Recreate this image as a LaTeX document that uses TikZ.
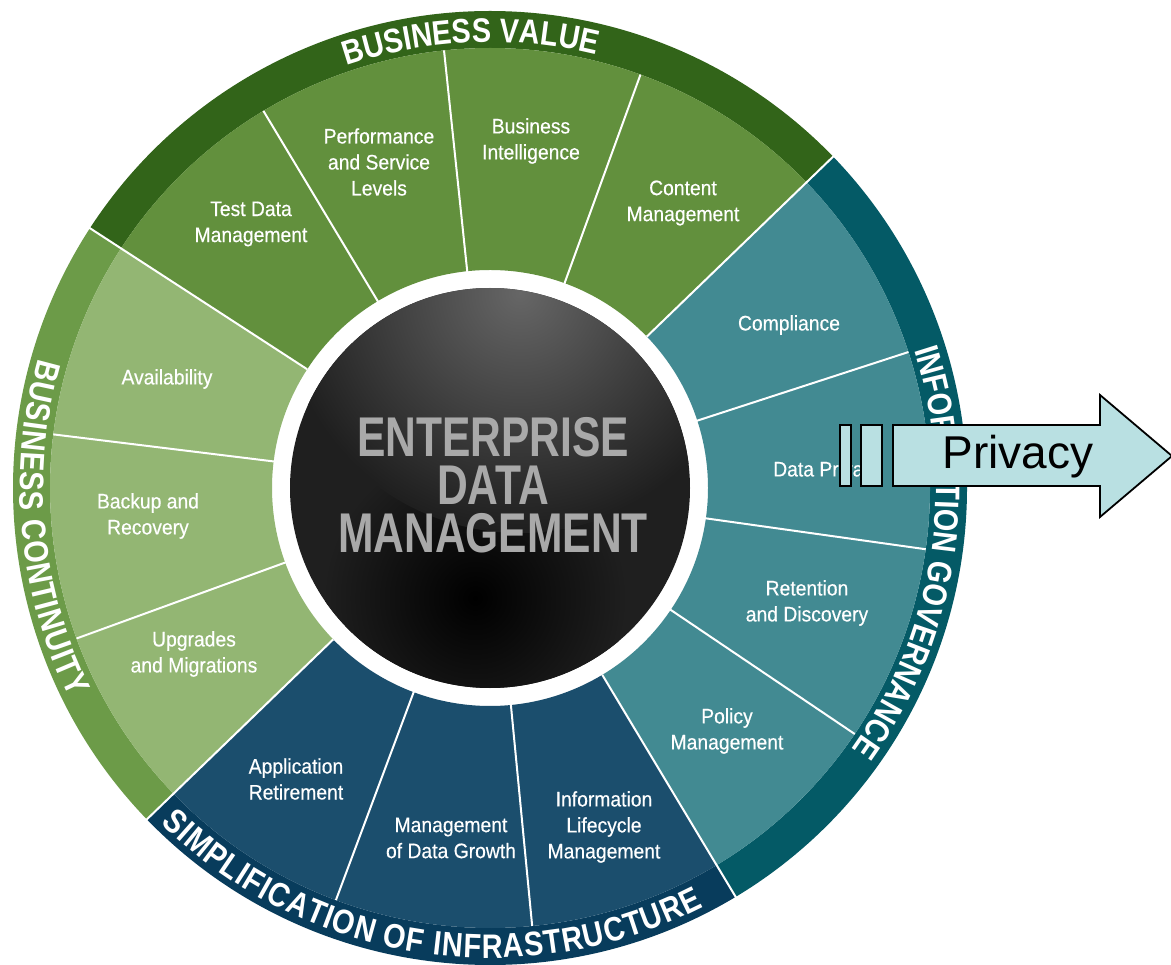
\documentclass[tikz,border=0pt]{standalone}
\usepackage{fontspec}
\usetikzlibrary{decorations.text}
\newfontfamily\labelfont[FakeStretch=0.92,FakeBold=0.4]{Liberation Sans}
\newfontfamily\bandfont[FakeStretch=0.85]{Liberation Sans Bold}
\newfontfamily\corefont[FakeStretch=0.76]{Liberation Sans Bold}
\newfontfamily\arrowfont{Liberation Sans}
\definecolor{bvBand}{HTML}{326419}
\definecolor{bvSeg}{HTML}{62903D}
\definecolor{bcBand}{HTML}{6C9B48}
\definecolor{bcSeg}{HTML}{93B673}
\definecolor{igBand}{HTML}{045A66}
\definecolor{igSeg}{HTML}{428A92}
\definecolor{siBand}{HTML}{083C5C}
\definecolor{siSeg}{HTML}{1B4E6D}
\definecolor{coreGray}{HTML}{A9A9A9}
\definecolor{privFill}{HTML}{B9E0E2}
\newcommand\AnnSector[5]{\fill[#1] (#2:#4pt) arc[start angle=#2,end angle=#3,radius=#4pt] -- (#3:#5pt) arc[start angle=#3,end angle=#2,radius=#5pt] -- cycle;}
\tikzset{
  seglabel/.style={text=white, align=center, inner sep=0pt, font=\labelfont\fontsize{21}{26}\selectfont},
  divider/.style={draw=white, line width=2pt},
  bandtext/.style={decorate, decoration={text along path, text color=white, text align={fit to path}, text={|\bandfont\fontsize{34}{34}\selectfont|#1}}},
  bandtextc/.style={decorate, decoration={text along path, text color=white, text align=center, text={|\bandfont\fontsize{34}{34}\selectfont|#1}}},
  privbox/.style={draw=black, fill=privFill, line width=1.8pt}
}
\begin{document}
\begin{tikzpicture}[x=1pt,y=1pt]
\useasboundingbox (0,0) rectangle (1171,-965);
\fill[white] (0,0) rectangle (1171,-965);
\begin{scope}[shift={(490pt,-488pt)}]
  % category bands
  \AnnSector{bvBand}{44}{147}{440}{477}
  \AnnSector{bcBand}{147}{224}{440}{477}
  \AnnSector{siBand}{224}{301}{440}{477}
  \AnnSector{igBand}{-59}{44}{440}{477}
  % segments
  \AnnSector{bvSeg}{44}{147}{218}{440}
  \AnnSector{bcSeg}{147}{224}{218}{440}
  \AnnSector{siSeg}{224}{301}{218}{440}
  \AnnSector{igSeg}{-59}{44}{218}{440}
  % category boundaries
  \foreach \a in {44,147,224,301} {\draw[divider] (\a:218pt) -- (\a:478pt);}
  % segment dividers
  \foreach \a in {70,96,121,173,200,249.5,275.5,-34,-8,18} {\draw[divider] (\a:216pt) -- (\a:440pt);}
  % band titles
  \path[bandtextc={BUSINESS VALUE}] (132.5:446pt) arc[start angle=132.5,end angle=52.5,radius=446pt];
  \path[bandtext={INFORMATION GOVERNANCE}] (18:446pt) arc[start angle=18,end angle=-35,radius=446pt];
  \path[bandtext={SIMPLIFICATION OF INFRASTRUCTURE}] (-134.5:470pt) arc[start angle=-134.5,end angle=-63,radius=470pt];
  \path[bandtext={BUSINESS CONTINUITY}] (164:470pt) arc[start angle=164,end angle=206.5,radius=470pt];
  % core sphere
  \fill[black!88] (0,0) circle (200pt);
  \begin{scope}
    \clip (0,0) circle (200pt);
    \shade[inner color=black, outer color=black!88] (-15pt,-110pt) circle (150pt);
    \shade[inner color=black!60, outer color=black!88] (30pt,195pt) circle (240pt);
  \end{scope}
\end{scope}
\node[text=coreGray, align=center, inner sep=0pt, font=\corefont\fontsize{56}{48}\selectfont] (core) at (493,-485) {ENTERPRISE\\DATA\\MANAGEMENT};
% segment labels
\node[seglabel] (tdm) at (251,-224) {Test Data\\Management};
\node[seglabel] (psl) at (379,-162) {Performance\\and Service\\Levels};
\node[seglabel] (bi) at (531,-141) {Business\\Intelligence};
\node[seglabel] (cm) at (683,-203) {Content\\Management};
\node[seglabel] (comp) at (789,-325) {Compliance};
\node[seglabel] (dp) at (828,-471) {Data Privacy};
\node[seglabel] (rd) at (807,-603) {Retention\\and Discovery};
\node[seglabel] (pm) at (727,-731) {Policy\\Management};
\node[seglabel] (ilm) at (604,-827) {Information\\Lifecycle\\Management};
\node[seglabel] (mdg) at (451,-838) {Management\\of Data Growth};
\node[seglabel] (ar) at (296,-779) {Application\\Retirement};
\node[seglabel] (um) at (194,-654) {Upgrades\\and Migrations};
\node[seglabel] (br) at (148,-516) {Backup and\\Recovery};
\node[seglabel] (av) at (167,-379) {Availability};
% privacy arrow
\draw[privbox] (840,-425) rectangle (851,-486);
\draw[privbox] (861,-425) rectangle (882,-486);
\draw[privbox] (893,-425) -- (1100,-425) -- (1100,-395) -- (1172,-456) -- (1100,-517) -- (1100,-486) -- (893,-486) -- cycle;
\node[font=\arrowfont\fontsize{46}{46}\selectfont, inner sep=0pt] (priv) at (1018,-457) {Privacy};
\end{tikzpicture}
\end{document}
